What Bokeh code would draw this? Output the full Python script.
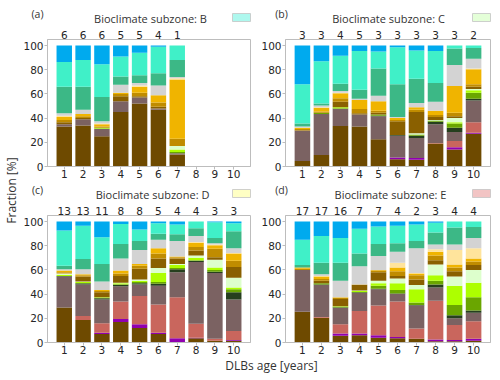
import math
from bokeh.plotting import figure
from bokeh.models import ColumnDataSource, LinearAxis, FixedTicker, Label, Range1d
from bokeh.layouts import row, column
from bokeh.embed import file_html
from bokeh.resources import INLINE

# ---------------- data ----------------
ages = [1, 2, 3, 4, 5, 6, 7, 8, 9, 10]
y_ticks = [0, 20, 40, 60, 80, 100]

classes = ["brown", "purple", "salmon", "mauve", "darkgreen", "green", "lime", "palegreen",
           "darkgold", "gold", "orange", "paleyellow", "gray", "seagreen", "aqua", "blue"]
class_colors = ["#6e4a00", "#9000b0", "#c9665d", "#7b6262", "#263f1e", "#6aa600", "#adff00", "#ddffcc",
                "#8a6000", "#c08c00", "#f0b400", "#ffe49c", "#d3d3d3", "#3cb886", "#40f0c8", "#00aaee"]

titles = ["Bioclimate subzone: B", "Bioclimate subzone: C", "Bioclimate subzone: D", "Bioclimate subzone: E"]
tags = ["(a)", "(b)", "(c)", "(d)"]
patch_colors = ["#aef8ee", "#e4ffd8", "#ffffc4", "#f2c4c4"]

counts_B = [6, 6, 6, 5, 5, 4, 1]
counts_C = [3, 3, 4, 5, 3, 3, 3, 3, 3, 2]
counts_D = [13, 13, 11, 8, 8, 5, 4, 4, 3, 3]
counts_E = [17, 17, 16, 7, 7, 4, 2, 3, 4, 4]

frac_B = {
    "brown":      [33, 34, 25, 45, 52, 47, 10, 0, 0, 0],
    "purple":     [0, 0, 0, 0, 0, 0, 0, 0, 0, 0],
    "salmon":     [0, 0, 0, 0, 0, 0, 0, 0, 0, 0],
    "mauve":      [2, 5, 6, 9, 5, 1, 1, 0, 0, 0],
    "darkgreen":  [0, 0, 0, 0, 0, 0, 0, 0, 0, 0],
    "green":      [0, 0, 0.5, 0, 0, 0, 1, 0, 0, 0],
    "lime":       [0, 0, 0.5, 0, 0, 0, 2, 0, 0, 0],
    "palegreen":  [0, 0, 0, 0, 0, 0, 3, 0, 0, 0],
    "darkgold":   [1.5, 1, 0, 4, 1, 1.5, 0, 0, 0, 0],
    "gold":       [2, 1.5, 1, 2, 3, 3.5, 6, 0, 0, 0],
    "orange":     [2.5, 2, 2, 1, 5, 6, 49, 0, 0, 0],
    "paleyellow": [1, 0, 0.5, 0, 1, 0, 1, 0, 0, 0],
    "gray":       [2, 3.5, 2, 6.5, 2, 8, 1, 0, 0, 0],
    "seagreen":   [22, 19, 20, 7, 6.5, 10, 14, 0, 0, 0],
    "aqua":       [20.5, 22, 27, 16.5, 18.5, 22, 12, 0, 0, 0],
    "blue":       [13.5, 12, 15.5, 9, 6, 1, 0, 0, 0, 0],
}
frac_C = {
    "brown":      [4.5, 9.5, 33.5, 33, 22.5, 6, 5.5, 19, 14, 27],
    "purple":     [0, 0, 0, 0, 0, 1.5, 1.5, 0, 2, 1],
    "salmon":     [0, 0, 0, 0, 0, 0, 0, 0.5, 5, 8.5],
    "mauve":      [25, 34, 14, 10, 19, 18, 16.5, 15.5, 7.5, 18],
    "darkgreen":  [0, 0, 0.5, 0, 0.5, 0.5, 2, 2, 3.5, 1.5],
    "green":      [0, 1, 0, 0, 1, 0, 1, 1, 3.5, 5],
    "lime":       [0, 0, 1, 0, 0, 0, 0, 0, 1, 2],
    "palegreen":  [0, 0, 0, 0, 0, 0, 1, 0.5, 3.5, 1],
    "darkgold":   [0.5, 0, 4.5, 1, 1.5, 11.5, 17.5, 2.5, 1.5, 2],
    "gold":       [1, 1, 3, 3.5, 1.5, 1, 2, 1.5, 3, 2],
    "orange":     [1, 3, 4, 7.5, 8, 1.5, 2, 3.5, 22, 12.5],
    "paleyellow": [0, 0.5, 0.5, 0, 0, 0, 0, 0, 0, 0.5],
    "gray":       [1, 1.5, 1.5, 1, 4.5, 1, 3.5, 7.5, 17.5, 8],
    "seagreen":   [2.5, 1.5, 6, 7.5, 22.5, 27, 20, 15.5, 13.5, 9],
    "aqua":       [32.5, 35, 23, 32, 14, 30.5, 23.5, 26.5, 2.5, 2],
    "blue":       [32, 13, 8.5, 4.5, 5, 1.5, 4, 4.5, 0, 0],
}
frac_D = {
    "brown":      [29, 18.5, 7, 17, 12, 7, 0.5, 3.5, 1.5, 1.5],
    "purple":     [0, 0, 1, 2.5, 3, 1, 3, 0.5, 0, 0.5],
    "salmon":     [0, 3.5, 8, 14.5, 23.5, 23.5, 34, 11.5, 1.5, 7.5],
    "mauve":      [25.5, 26, 19.5, 12.5, 9.5, 15.5, 20.5, 51, 54.5, 26],
    "darkgreen":  [0.5, 1, 1, 1.5, 1, 1.5, 2.5, 1, 1, 6],
    "green":      [0, 0, 0.5, 0, 1, 1.5, 1, 0.5, 1.5, 2.5],
    "lime":       [1, 1, 0.5, 1, 1, 7.5, 2.5, 2, 2, 1.5],
    "palegreen":  [1, 0.5, 0, 0.5, 1, 4, 1, 2, 6.5, 8],
    "darkgold":   [0, 4, 4, 5.5, 9, 8, 4.5, 4, 2, 9],
    "gold":       [1, 1, 1, 2, 2.5, 4, 1, 3, 7, 5],
    "orange":     [1.5, 1, 1, 2.5, 1.5, 4.5, 0.5, 3.5, 3, 6],
    "paleyellow": [0, 0, 0, 0, 0, 0, 0, 0.5, 0.5, 0.5],
    "gray":       [1, 4, 7, 10, 11.5, 7, 13, 5, 1, 4],
    "seagreen":   [3, 8.5, 14.5, 12, 7.5, 5, 5.5, 6.5, 4.5, 14],
    "aqua":       [29, 27.5, 22, 16.5, 9.5, 8.5, 8, 5.5, 13, 6.5],
    "blue":       [7.5, 3.5, 13, 2, 6.5, 1.5, 2.5, 0, 0.5, 1.5],
}
frac_E = {
    "brown":      [25.5, 20.5, 5.5, 6, 4, 3.5, 3, 1, 1, 1.5],
    "purple":     [0, 0, 2, 1.5, 2, 1, 0, 1.5, 1, 1.5],
    "salmon":     [0, 0.5, 7.5, 18.5, 24.5, 29.5, 8.5, 32, 12.5, 14.5],
    "mauve":      [34.5, 26.5, 13.5, 15, 13.5, 6, 19, 11, 5.5, 7],
    "darkgreen":  [0, 0.5, 0.5, 0.5, 0.5, 0.5, 0.5, 2.5, 2.5, 2],
    "green":      [0, 1, 0.5, 0, 2.5, 3, 2, 3, 8.5, 11],
    "lime":       [0, 0, 0.5, 1, 2, 5.5, 11, 4.5, 16, 12],
    "palegreen":  [0, 0, 0, 0.5, 2, 4, 3.5, 9, 7.5, 10.5],
    "darkgold":   [0, 2, 6, 4.5, 7, 2, 4.5, 3.5, 4.5, 4],
    "gold":       [1, 1.5, 1, 0.5, 1.5, 4, 3.5, 4, 3, 3],
    "orange":     [1, 2, 0.5, 0, 0.5, 3, 1.5, 3, 2.5, 2.5],
    "paleyellow": [0, 0.5, 0, 0, 0, 4, 0.5, 2, 12, 8.5],
    "gray":       [0, 1.5, 13.5, 15, 11.5, 9, 20.5, 4, 4.5, 8.5],
    "seagreen":   [2, 9.5, 15, 10.5, 10, 7, 6, 10, 14, 9],
    "aqua":       [21, 22, 20.5, 20.5, 14.5, 14.5, 13.5, 8, 5, 4.5],
    "blue":       [15, 12, 13.5, 6, 4, 3.5, 2.5, 1, 0, 0],
}

# ---------------- styling ----------------
TICK_FONT = "DejaVu Sans"
TEXT_FONT = "Open Sans"
TEXT_COLOR = "#333333"
FRAME = "#bdbdbd"
X0, X1 = 0.11, 10.89
Y0, Y1 = 0, 105


def bare(width, height, x0, x1):
    f = figure(width=width, height=height, x_range=Range1d(x0, x1), y_range=Range1d(0, height),
               output_backend="svg", toolbar_location=None, x_axis_location=None, y_axis_location=None,
               min_border_left=0, min_border_right=0, min_border_top=0, min_border_bottom=0)
    f.grid.visible = False
    f.outline_line_color = None
    return f


def make_panel(frac, counts, width, height, bl, br, bt, bb):
    p = figure(width=width, height=height, x_range=Range1d(X0, X1), y_range=Range1d(Y0, Y1),
               output_backend="svg", toolbar_location=None,
               min_border_left=bl, min_border_right=br, min_border_top=bt, min_border_bottom=bb)
    data = {"age": ages}
    data.update(frac)
    src = ColumnDataSource(data)
    p.vbar_stack(classes, x="age", width=0.82, color=class_colors, line_color=None, source=src)

    p.grid.visible = False
    p.outline_line_color = FRAME

    p.xaxis.ticker = FixedTicker(ticks=ages)
    p.yaxis.ticker = FixedTicker(ticks=y_ticks)
    for ax in (p.xaxis[0], p.yaxis[0]):
        ax.axis_line_color = FRAME
        ax.major_tick_line_color = FRAME
        ax.major_tick_out = 3
        ax.major_tick_in = 0
        ax.minor_tick_line_color = None
        ax.major_label_text_font = TICK_FONT
        ax.major_label_text_font_size = "10.5px"
        ax.major_label_text_color = "#262626"
    p.xaxis[0].major_label_standoff = 0
    p.yaxis[0].major_label_standoff = 1

    top = LinearAxis(ticker=FixedTicker(ticks=ages[:len(counts)]),
                     major_label_overrides={a: str(c) for a, c in zip(ages, counts)})
    top.axis_line_color = None
    top.major_tick_line_color = None
    top.minor_tick_line_color = None
    top.major_tick_out = 0
    top.major_tick_in = 0
    top.major_label_standoff = 1
    top.major_label_text_font = TICK_FONT
    top.major_label_text_font_size = "10.5px"
    top.major_label_text_color = "#262626"
    p.add_layout(top, "above")
    return p


def make_header(height, title_xs, title_y, tag_xs, tag_y, patch_lr, patch_bt, pcolors, ttl, tg):
    h = bare(480, height, 20, 500)
    for tx, t in zip(title_xs, ttl):
        h.add_layout(Label(x=tx, y=title_y, text=t, text_align="center", text_baseline="middle",
                           text_font=TEXT_FONT, text_font_size="11px", text_color=TEXT_COLOR))
    for gx, g in zip(tag_xs, tg):
        h.add_layout(Label(x=gx, y=tag_y, text=g, text_align="center", text_baseline="middle",
                           text_font=TEXT_FONT, text_font_size="10.5px", text_color=TEXT_COLOR))
    h.quad(left=[lr[0] for lr in patch_lr], right=[lr[1] for lr in patch_lr],
           bottom=patch_bt[0], top=patch_bt[1], fill_color=pcolors, line_color="#c4c4c4", line_width=0.8)
    return h


# top header: titles, panel tags and colour patches for (a) and (b)
head_top = make_header(26, [150, 388], 8, [37, 281], 13, [(232, 250), (472, 490)], (5, 13),
                       patch_colors[0:2], titles[0:2], tags[0:2])
head_bot = make_header(20, [152, 390], 7.5, [37, 281], 11.5, [(232, 250), (472, 490)], (4, 12),
                       patch_colors[2:4], titles[2:4], tags[2:4])

pa = make_panel(frac_B, counts_B, 238, 155, 23, 8, 13, 15)
pb = make_panel(frac_C, counts_C, 242, 155, 25, 10, 13, 15)
pc = make_panel(frac_D, counts_D, 238, 156, 23, 8, 14, 15)
pd = make_panel(frac_E, counts_E, 242, 156, 25, 10, 14, 15)

# left strip with the shared y label
ls = bare(20, 357, 0, 20)
ls.add_layout(Label(x=11, y=167, text="Fraction [%]", angle=math.pi / 2, text_align="center",
                    text_baseline="middle", text_font=TEXT_FONT, text_font_size="12px", text_color=TEXT_COLOR))

# bottom strip with the shared x label
bs = bare(500, 20, 0, 500)
bs.add_layout(Label(x=271, y=12, text="DLBs age [years]", text_align="center", text_baseline="middle",
                    text_font=TEXT_FONT, text_font_size="12px", text_color=TEXT_COLOR))

right_col = column(head_top, row(pa, pb), head_bot, row(pc, pd))
page = column(row(ls, right_col), bs)

open("out.html", "w").write(file_html(page, INLINE))
